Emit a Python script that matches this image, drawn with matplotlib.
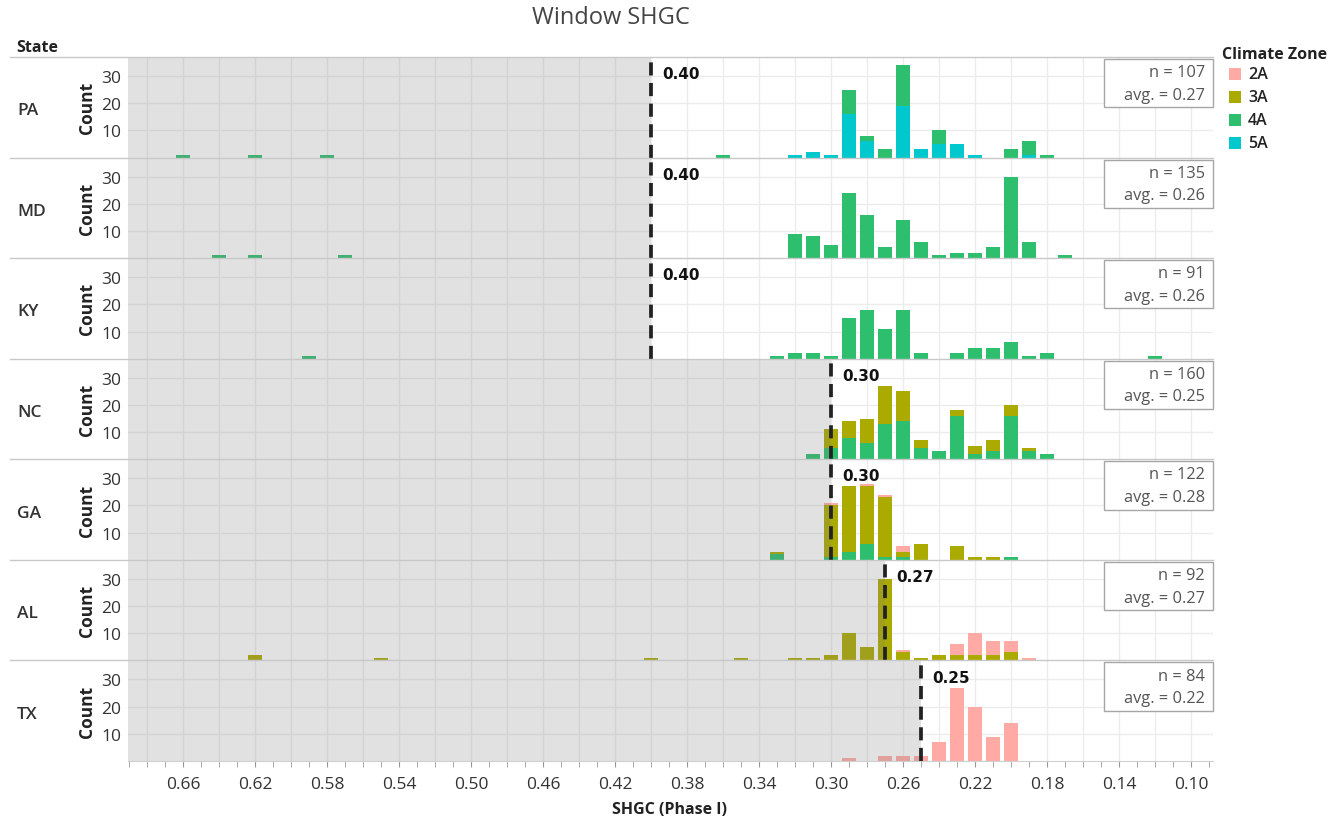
import matplotlib.pyplot as plt
from matplotlib.patches import Rectangle
from matplotlib.lines import Line2D
import numpy as np

plt.rcParams['font.family'] = ['Open Sans', 'DejaVu Sans']

states = ['PA', 'MD', 'KY', 'NC', 'GA', 'AL', 'TX']
zones = ['2A', '3A', '4A', '5A']
zone_colors = {'2A': '#ffaaa5', '3A': '#aaaa00', '4A': '#2ebf6e', '5A': '#00c8cc'}
thresholds = [0.40, 0.40, 0.40, 0.30, 0.30, 0.27, 0.25]
n_counts = [107, 135, 91, 160, 122, 92, 84]
averages = [0.27, 0.26, 0.26, 0.25, 0.28, 0.27, 0.22]

# counts per SHGC bin (0.01 wide), one list per climate zone
pa_bins = [0.66, 0.62, 0.58, 0.36, 0.32, 0.31, 0.30, 0.29, 0.28, 0.27, 0.26, 0.25, 0.24, 0.23, 0.22, 0.20, 0.19, 0.18]
pa_4a = [1, 1, 1, 1, 0, 0, 0, 9, 2, 3, 15, 0, 5, 0, 0, 3, 5, 1]
pa_5a = [0, 0, 0, 0, 1, 2, 1, 16, 6, 0, 19, 3, 5, 5, 1, 0, 1, 0]

md_bins = [0.64, 0.62, 0.57, 0.32, 0.31, 0.30, 0.29, 0.28, 0.27, 0.26, 0.25, 0.24, 0.23, 0.22, 0.21, 0.20, 0.19, 0.17]
md_4a = [1, 1, 1, 9, 8, 5, 24, 16, 4, 14, 6, 1, 2, 2, 4, 30, 6, 1]

ky_bins = [0.59, 0.33, 0.32, 0.31, 0.30, 0.29, 0.28, 0.27, 0.26, 0.25, 0.23, 0.22, 0.21, 0.20, 0.19, 0.18, 0.12]
ky_4a = [1, 1, 2, 2, 1, 15, 18, 11, 18, 2, 2, 4, 4, 6, 1, 2, 1]

nc_bins = [0.31, 0.30, 0.29, 0.28, 0.27, 0.26, 0.25, 0.24, 0.23, 0.22, 0.21, 0.20, 0.19, 0.18]
nc_3a = [0, 7, 6, 9, 14, 11, 3, 0, 2, 3, 4, 4, 1, 0]
nc_4a = [2, 4, 8, 6, 13, 14, 4, 3, 16, 2, 3, 16, 3, 2]

ga_bins = [0.33, 0.30, 0.29, 0.28, 0.27, 0.26, 0.25, 0.23, 0.22, 0.21, 0.20]
ga_2a = [0, 1, 0, 1, 1, 2, 0, 0, 0, 0, 0]
ga_3a = [1, 19, 24, 21, 22, 2, 6, 5, 1, 1, 0]
ga_4a = [2, 1, 3, 6, 1, 1, 0, 0, 0, 0, 1]

al_bins = [0.62, 0.55, 0.40, 0.35, 0.32, 0.31, 0.30, 0.29, 0.28, 0.27, 0.26, 0.25, 0.24, 0.23, 0.22, 0.21, 0.20, 0.19]
al_2a = [0, 0, 0, 0, 0, 0, 0, 0, 0, 0, 1, 0, 0, 4, 8, 5, 4, 1]
al_3a = [2, 1, 1, 1, 1, 1, 2, 10, 5, 30, 3, 1, 2, 2, 2, 2, 3, 0]

tx_bins = [0.29, 0.27, 0.26, 0.25, 0.24, 0.23, 0.22, 0.21, 0.20]
tx_2a = [1, 2, 2, 2, 7, 27, 20, 9, 14]

state_data = {
    'PA': (pa_bins, {'4A': pa_4a, '5A': pa_5a}),
    'MD': (md_bins, {'4A': md_4a}),
    'KY': (ky_bins, {'4A': ky_4a}),
    'NC': (nc_bins, {'3A': nc_3a, '4A': nc_4a}),
    'GA': (ga_bins, {'2A': ga_2a, '3A': ga_3a, '4A': ga_4a}),
    'AL': (al_bins, {'2A': al_2a, '3A': al_3a}),
    'TX': (tx_bins, {'2A': tx_2a}),
}

W, H = 1340, 820
left, right = 128, 1213
top, bottom = 58, 762
ph = (bottom - top) / len(states)
xmin, xmax = 0.6906, 0.0878

fig = plt.figure(figsize=(W / 100, H / 100), dpi=100)

for i, st in enumerate(states):
    y0 = top + i * ph
    ax = fig.add_axes([left / W, 1 - (y0 + ph) / H, (right - left) / W, ph / H])
    ax.set_xlim(xmin, xmax)
    ax.set_ylim(0, 37)

    for g in np.arange(0.10, 0.685, 0.02):
        ax.axvline(g, color='#ececec', lw=1, zorder=0)
    for g in [10, 20, 30]:
        ax.axhline(g, color='#ececec', lw=1, zorder=0)

    bins, counts = state_data[st]
    base = np.zeros(len(bins))
    for z in ['5A', '4A', '3A', '2A']:
        if z in counts:
            vals = np.array(counts[z])
            ax.bar(bins, vals, width=0.0074, bottom=base, color=zone_colors[z], lw=0, zorder=2)
            base += vals

    thr = thresholds[i]
    ax.axvspan(xmin, thr, color='#808080', alpha=0.23, lw=0, zorder=3)
    ax.axvline(thr, color='#222222', lw=2.7, linestyle=(0, (3.5, 2)), zorder=4)
    ax.annotate('%.2f' % thr, xy=(thr, 0.835), xycoords=('data', 'axes fraction'),
                xytext=(8, 0), textcoords='offset points', fontsize=11, fontweight='bold',
                family='DejaVu Sans', color='#111111', ha='left', va='center', zorder=6)

    ax.add_patch(Rectangle((0.8995, 0.50), 0.1005, 0.48, transform=ax.transAxes,
                           fc='white', ec='#a6a6a6', lw=1, zorder=5, clip_on=False))
    ax.text(0.9926, 0.85, 'n = %d' % n_counts[i], transform=ax.transAxes, ha='right', va='center',
            fontsize=11.8, color='#555555', zorder=6)
    ax.text(0.9926, 0.625, 'avg. = %.2f' % averages[i], transform=ax.transAxes, ha='right', va='center',
            fontsize=11.8, color='#555555', zorder=6)

    ax.set_yticks([10, 20, 30])
    ax.tick_params(axis='y', length=0, labelsize=12.5, labelcolor='#333333', pad=5)
    ax.text(-0.0378, 0.5, 'Count', transform=ax.transAxes, rotation=90, ha='center', va='center',
            fontsize=12.5, fontweight='bold', color='#222222')
    for s in ax.spines.values():
        s.set_visible(False)

    if i == len(states) - 1:
        ax.set_xticks(np.round(np.arange(0.10, 0.665, 0.04), 2))
        ax.set_xticklabels(['%.2f' % t for t in np.arange(0.10, 0.665, 0.04)])
        ax.set_xticks(np.round(np.arange(0.09, 0.695, 0.01), 2), minor=True)
        ax.tick_params(axis='x', which='both', length=4, color='#999999', labelsize=12.5,
                       labelcolor='#333333', pad=7)
        ax.spines['bottom'].set_visible(True)
        ax.spines['bottom'].set_color('#d0d0d0')
    else:
        ax.set_xticks([])

    fig.text(17 / W, 1 - (y0 + ph / 2 + 3) / H, st, fontsize=12.5, fontweight='semibold',
             color='#333333', va='center', ha='left')

for i in range(len(states)):
    y = 1 - (top + i * ph) / H
    fig.add_artist(Line2D([10 / W, right / W], [y, y], color='#c8c8c8', lw=1))

fig.text(611 / W, 1 - 18 / H, 'Window SHGC', ha='center', va='center', fontsize=17, color='#444444')
fig.text(16 / W, 1 - 48 / H, 'State', ha='left', va='center', fontsize=11.5, fontweight='bold', color='#222222')
fig.text(670 / W, 1 - 810 / H, 'SHGC (Phase I)', ha='center', va='center', fontsize=11.5,
         fontweight='bold', color='#222222')

fig.text(1222 / W, 1 - 55 / H, 'Climate Zone', ha='left', va='center', fontsize=11.5,
         fontweight='bold', color='#222222')
for k, z in enumerate(zones):
    yc = 75 + k * 23
    fig.add_artist(Rectangle((1229 / W, 1 - (yc + 6) / H), 12 / W, 12 / H, transform=fig.transFigure,
                             fc=zone_colors[z], lw=0))
    fig.text(1248 / W, 1 - yc / H, z, ha='left', va='center', fontsize=11.5,
             fontweight='semibold', color='#222222')

fig.savefig('out.png', dpi=100)
